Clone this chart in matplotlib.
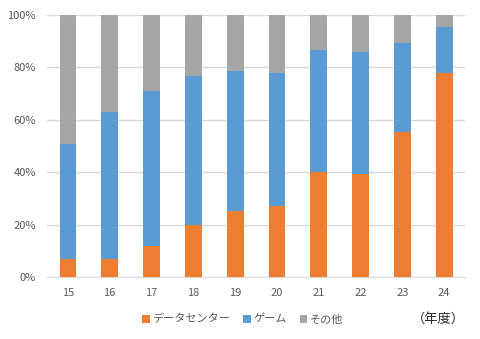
import matplotlib
matplotlib.use('Agg')
import matplotlib.pyplot as plt
import numpy as np

plt.rcParams['font.family'] = ['Noto Sans CJK JP', 'DejaVu Sans']

years = ['15', '16', '17', '18', '19', '20', '21', '22', '23', '24']
datacenter = [6.9, 6.9, 11.9, 19.9, 25.1, 27.3, 40.2, 39.5, 55.4, 77.9]
game = [43.7, 56.2, 58.9, 56.8, 53.3, 50.5, 46.5, 46.2, 33.8, 17.3]
other = [49.4, 36.9, 29.2, 23.3, 21.6, 22.2, 13.3, 14.3, 10.8, 4.8]

series = [
    ('データセンター', datacenter, '#ED7D31'),
    ('ゲーム', game, '#5B9BD5'),
    ('その他', other, '#A5A5A5'),
]

fig = plt.figure(figsize=(4.8, 3.39), dpi=100)
ax = fig.add_axes([0.098, 0.182, 0.871, 0.775])

x = np.arange(len(years))
bottom = np.zeros(len(years))
for name, vals, color in series:
    ax.bar(x, vals, width=0.4, bottom=bottom, color=color, label=name, zorder=3)
    bottom += np.array(vals)

ax.set_xlim(-0.5, len(years) - 0.5)
ax.set_ylim(0, 100)
ax.set_yticks(range(0, 101, 20))
ax.set_yticklabels([f'{v}%' for v in range(0, 101, 20)])
ax.set_xticks(x)
ax.set_xticklabels(years)
ax.yaxis.grid(True, color='#D9D9D9', linewidth=1, zorder=0)
for side in ['top', 'right', 'left']:
    ax.spines[side].set_visible(False)
ax.spines['bottom'].set_color('#D9D9D9')
ax.tick_params(axis='both', length=0, colors='#595959', labelsize=8)
ax.tick_params(axis='x', pad=8)
ax.tick_params(axis='y', pad=8)

leg = fig.legend(loc='center', bbox_to_anchor=(0.505, 0.058), ncol=3, frameon=False,
                 fontsize=8, handlelength=0.7, handleheight=0.7, handletextpad=0.2,
                 columnspacing=1.2)
for t in leg.get_texts():
    t.set_color('#595959')

fig.text(0.968, 0.058, '（年度）', ha='right', va='center', fontsize=9.5, color='#262626')

fig.savefig('out.png', dpi=100)
